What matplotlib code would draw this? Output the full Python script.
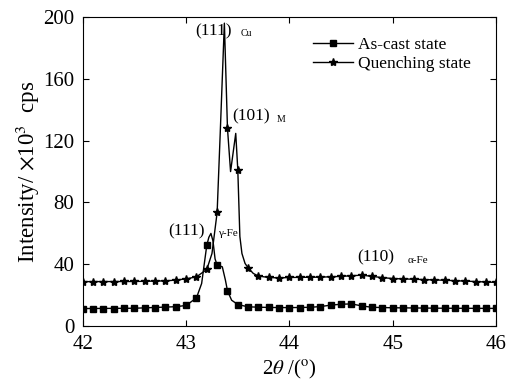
import matplotlib
matplotlib.use("Agg")
import matplotlib.pyplot as plt
from matplotlib.lines import Line2D

plt.rcParams['font.family'] = ['Liberation Serif', 'DejaVu Serif']
plt.rcParams['mathtext.fontset'] = 'stix'

# marker positions (2theta, every 0.1 deg)
x_mark = [42.0, 42.1, 42.2, 42.3, 42.4, 42.5, 42.6, 42.7, 42.8, 42.9,
          43.0, 43.1, 43.2, 43.3, 43.4, 43.5, 43.6, 43.7, 43.8, 43.9,
          44.0, 44.1, 44.2, 44.3, 44.4, 44.5, 44.6, 44.7, 44.8, 44.9,
          45.0, 45.1, 45.2, 45.3, 45.4, 45.5, 45.6, 45.7, 45.8, 45.9, 46.0]
cast_mark = [11.4, 11.4, 11.4, 11.4, 11.5, 11.6, 11.8, 11.9, 12.2, 12.6,
             13.4, 18.3, 52.4, 39.5, 22.9, 14.0, 12.5, 12.3, 12.1, 12.0,
             12.0, 12.0, 12.2, 12.7, 13.6, 14.2, 14.4, 13.1, 12.2, 12.0,
             11.9, 11.8, 11.8, 11.7, 11.7, 11.6, 11.6, 11.5, 11.5, 11.5, 11.5]
quench_mark = [28.8, 28.8, 28.8, 28.8, 28.9, 28.9, 29.0, 29.1, 29.3, 29.8,
               30.6, 31.9, 36.7, 73.6, 128.0, 101.0, 37.7, 32.4, 31.5, 31.2,
               31.5, 31.5, 31.6, 31.7, 31.9, 32.2, 32.6, 33.0, 32.2, 31.4,
               30.8, 30.5, 30.3, 30.1, 29.9, 29.7, 29.4, 29.1, 28.8, 28.5, 28.3]

# curve traces (denser around the peaks)
x_cast = [42.0, 42.5, 42.9, 43.0, 43.1, 43.15, 43.2, 43.22, 43.24, 43.26,
          43.28, 43.3, 43.35, 43.38, 43.4, 43.44, 43.5, 43.6, 43.8, 44.0,
          44.2, 44.3, 44.4, 44.5, 44.6, 44.7, 44.8, 45.0, 45.5, 46.0]
y_cast = [11.4, 11.6, 12.6, 13.4, 18.3, 27.6, 52.4, 57.5, 60.0, 55.0,
          43.5, 39.5, 38.4, 29.8, 22.9, 16.8, 14.0, 12.5, 12.1, 12.0,
          12.2, 12.7, 13.6, 14.2, 14.4, 13.1, 12.2, 11.9, 11.6, 11.5]
x_quench = [42.0, 42.5, 42.8, 42.9, 43.0, 43.1, 43.2, 43.25, 43.3, 43.33,
            43.37, 43.4, 43.43, 43.48, 43.5, 43.52, 43.54, 43.57, 43.6, 43.65,
            43.7, 43.8, 43.9, 44.0, 44.3, 44.5, 44.7, 44.9, 45.0, 45.5, 46.0]
y_quench = [28.8, 28.9, 29.3, 29.8, 30.6, 31.9, 36.7, 47.0, 73.6, 125.0,
            196.0, 128.0, 100.0, 124.7, 101.0, 58.0, 47.0, 40.6, 37.7, 34.1,
            32.4, 31.5, 31.2, 31.5, 31.7, 32.2, 33.0, 31.4, 30.8, 29.7, 28.3]

fig = plt.figure(figsize=(5.11, 3.86), dpi=100)
ax = fig.add_axes([0.162, 0.155, 0.809, 0.801])

ax.plot(x_cast, y_cast, color='k', lw=1.0)
ax.plot(x_mark, cast_mark, ls='none', marker='s', ms=4.5, color='k')
ax.plot(x_quench, y_quench, color='k', lw=1.0)
ax.plot(x_mark, quench_mark, ls='none', marker='*', ms=6, color='k')

ax.set_xlim(42, 46)
ax.set_ylim(0, 200)
ax.set_xticks([42, 43, 44, 45, 46])
ax.set_yticks([0, 40, 80, 120, 160, 200])
ax.tick_params(direction='in', top=True, right=True, length=4, labelsize=15)
ax.tick_params(axis='x', pad=6)
ax.tick_params(axis='y', pad=6)

ax.set_xlabel(r'2$\theta$ /($^{\rm o}$)', fontsize=15, labelpad=3)
ax.set_ylabel(r'Intensity/ $\times$10$^{3}$  cps', fontsize=16.5, labelpad=1)

# peak labels
ax.text(43.087, 188.3, '(111)', fontsize=12.5)
ax.text(43.53, 187.7, 'Cu', fontsize=7)
ax.text(43.45, 132.9, '(101)', fontsize=12.5)
ax.text(43.88, 132.2, 'M', fontsize=7)
ax.text(42.825, 58.9, '(111)', fontsize=12.5)
ax.text(43.31, 58.4, 'γ-Fe', fontsize=8)
ax.text(44.657, 41.6, '(110)', fontsize=12.5)
ax.text(45.143, 41.0, 'α-Fe', fontsize=8)

handles = [Line2D([], [], color='k', lw=1.0, marker='s', ms=4.5),
           Line2D([], [], color='k', lw=1.0, marker='*', ms=6)]
ax.legend(handles, ['As-cast state', 'Quenching state'], loc='upper left',
          bbox_to_anchor=(0.537, 0.963), frameon=False, fontsize=12.5,
          handlelength=2.3, handletextpad=0.25, borderpad=0, labelspacing=0.15)

fig.savefig('out.png', dpi=100)
